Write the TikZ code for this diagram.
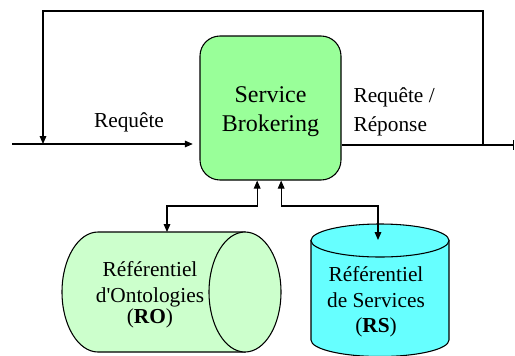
\documentclass[tikz,border=0pt]{standalone}
\usepackage{fontspec}
\setmainfont{Liberation Serif}
\usetikzlibrary{arrows.meta}
\definecolor{brokergreen}{RGB}{153,255,153}
\definecolor{ontogreen}{RGB}{204,255,204}
\definecolor{servcyan}{RGB}{102,255,255}

\begin{document}
\begin{tikzpicture}[
    x=0.75pt,y=-0.75pt,
    line width=0.8pt,
    >={Triangle[length=6pt,width=5pt]},
    broker/.style={draw, fill=brokergreen, rounded corners=15pt, minimum width=105.75pt, minimum height=108pt},
    brokertext/.style={font=\fontsize{18}{21.75}\selectfont, align=center, inner sep=0pt},
    flowlabel/.style={font=\fontsize{16}{21.75}\selectfont, align=left, inner sep=0pt},
    repo/.style={draw, line width=0.8pt},
    repotext/.style={font=\fontsize{16}{19.3}\selectfont, align=center, inner sep=0pt}
]
    \useasboundingbox (0,0) rectangle (515,355);

    % broker and the request loop
    \node[broker] (broker) at (270.5,108) {};
    \node[brokertext] (brokerlabel) at ([yshift=-3pt]broker.center) {Service\\Brokering};
    \coordinate (in) at (12,144);
    \coordinate (out) at (514,145);
    \coordinate (loopL) at (43,144);
    \coordinate (loopR) at (483,145);
    \draw[->, shorten >=5pt] (in) -- (broker.west |- in);
    \draw[-{Bar[width=7pt]}] (broker.east |- out) -- (out);
    \draw[->] (loopR) -- ++(0,-134) -| (loopL);
    \node[flowlabel] (req) at (129,122) {Requête};
    \node[flowlabel, anchor=west] (reqrep) at (353,112) {Requête /\\Réponse};

    % repositories
    \draw[repo, fill=ontogreen] (245,232) -- (98,232)
        arc[start angle=-90, end angle=-270, x radius=36, y radius=60] -- (245,352) -- cycle;
    \draw[repo, fill=ontogreen] (245,292) ellipse[x radius=36, y radius=60];
    \draw[repo, fill=servcyan] (311,240.5) -- (311,340)
        arc[start angle=180, end angle=0, x radius=69, y radius=16.5] -- (449,240.5) -- cycle;
    \draw[repo, fill=servcyan] (380,240.5) ellipse[x radius=69, y radius=16.5];
    \node[repotext] (ro) at (150,295) {Référentiel\\d\textquotesingle Ontologies\\[-3pt](\textbf{RO})};
    \node[repotext] (rs) at (376,302) {Référentiel\\de Services\\(\textbf{RS})};

    \coordinate (ro-top) at (167,232);
    \coordinate (rs-top) at (378,240);
    \draw[<->] (ro-top) -- ++(0,-26) -| ([xshift=-10pt]broker.south);
    \draw[<->] (rs-top) -- ++(0,-34) -| ([xshift=8pt]broker.south);
\end{tikzpicture}
\end{document}
